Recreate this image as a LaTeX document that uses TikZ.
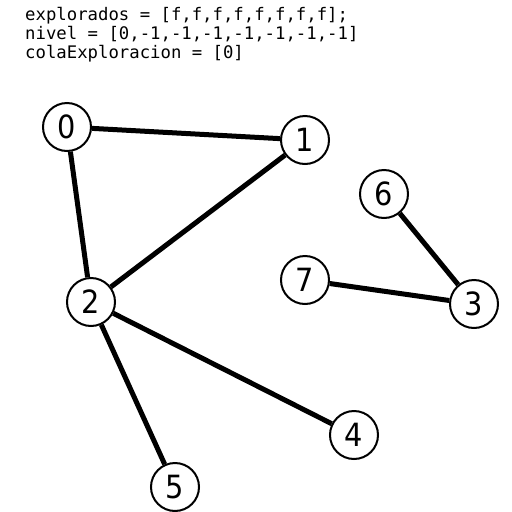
\documentclass[tikz,border=0pt]{standalone}
\usepackage{fontspec}
\setmainfont{DejaVu Sans}
\newfontfamily\digitfont{DejaVu Sans Condensed}
\setmonofont{DejaVu Sans Mono}
\begin{document}
\begin{tikzpicture}[x=1pt,y=-1pt,
  vertex/.style={circle,draw,line width=2pt,minimum size=48pt,inner sep=0pt,font=\digitfont\fontsize{32}{34}\selectfont},
  edge/.style={line width=5pt},
  code/.style={anchor=base west,inner sep=0pt,font=\ttfamily\fontsize{17.3}{19}\selectfont}]
\useasboundingbox (0,0) rectangle (512,512);
\node[code] (t1) at (25,20) {explorados = [f,f,f,f,f,f,f,f];};
\node[code] (t2) at (25,39) {nivel = [0,-1,-1,-1,-1,-1,-1,-1]};
\node[code] (t3) at (25,58) {colaExploracion = [0]};
\node[vertex] (n0) at (67,127) {0};
\node[vertex] (n1) at (305,140) {1};
\node[vertex] (n6) at (384,194) {6};
\node[vertex] (n7) at (305,280) {7};
\node[vertex] (n3) at (474,304) {3};
\node[vertex] (n2) at (91,302) {2};
\node[vertex] (n4) at (354,435) {4};
\node[vertex] (n5) at (175,487) {5};
\draw[edge] (n0) -- (n1);
\draw[edge] (n0) -- (n2);
\draw[edge] (n1) -- (n2);
\draw[edge] (n2) -- (n4);
\draw[edge] (n2) -- (n5);
\draw[edge] (n6) -- (n3);
\draw[edge] (n7) -- (n3);
\end{tikzpicture}
\end{document}
